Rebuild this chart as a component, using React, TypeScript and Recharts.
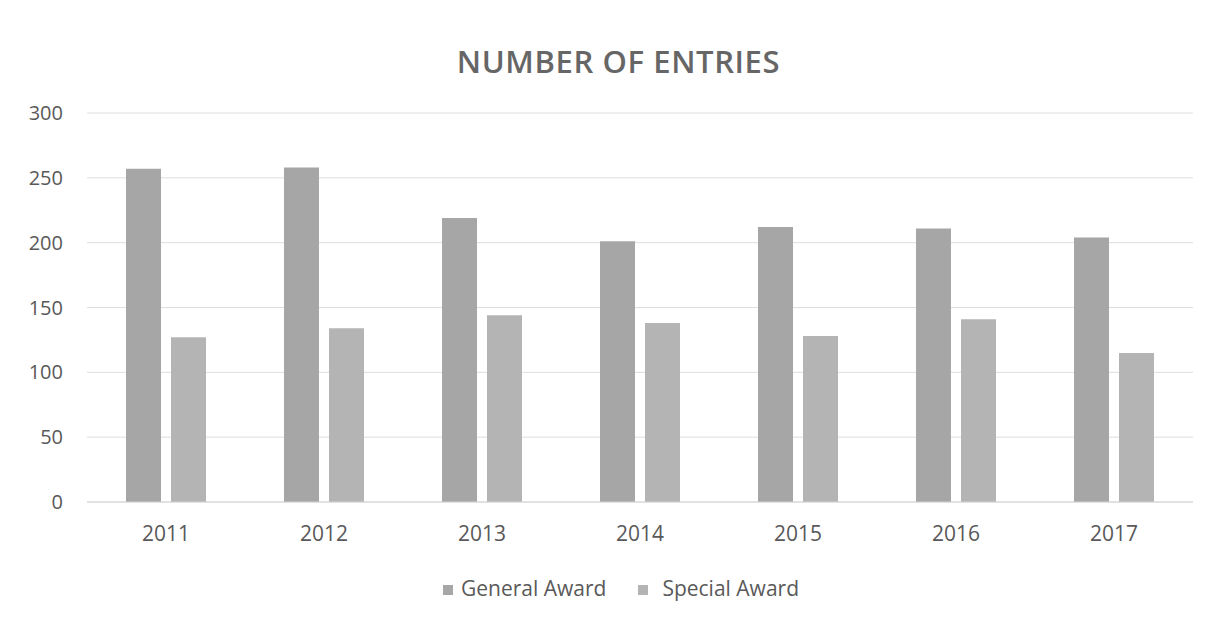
import React from 'react';
import { BarChart, Bar, XAxis, YAxis, CartesianGrid, Legend } from 'recharts';

const years = ['2011', '2012', '2013', '2014', '2015', '2016', '2017'];
const generalAward = [257, 258, 219, 201, 212, 211, 204];
const specialAward = [127, 134, 144, 138, 128, 141, 115];
const yTicks = [0, 50, 100, 150, 200, 250, 300];

const data = years.map((year, i) => ({
  year,
  general: generalAward[i],
  special: specialAward[i],
}));

const FONT = '"Open Sans", "Liberation Sans", sans-serif';

const App = () => {
  return (
    <div
      style={{
        position: 'absolute',
        left: 0,
        top: 0,
        width: 1213,
        height: 619,
        background: '#fff',
        fontFamily: FONT,
      }}
    >
      <div
        style={{
          position: 'absolute',
          left: 12,
          top: 40,
          width: 1213,
          textAlign: 'center',
          fontSize: 31,
          fontWeight: 600,
          color: '#666666',
          letterSpacing: 0.6,
          lineHeight: '42px',
        }}
      >
        NUMBER OF ENTRIES
      </div>
      <BarChart
        width={1213}
        height={619}
        data={data}
        margin={{ top: 113, right: 20, left: 17, bottom: 17 }}
        barGap={10}
        barSize={35}
      >
        <CartesianGrid vertical={false} stroke="#dedede" />
        <XAxis
          dataKey="year"
          tick={{ fill: '#595959', fontSize: 21, fontFamily: FONT }}
          tickLine={false}
          axisLine={{ stroke: '#d4d4d4' }}
          tickMargin={18}
          height={72}
        />
        <YAxis
          domain={[0, 300]}
          ticks={yTicks}
          width={70}
          tick={{ fill: '#595959', fontSize: 20, fontFamily: FONT }}
          tickLine={false}
          axisLine={false}
          tickMargin={18}
        />
        <Legend
          verticalAlign="bottom"
          align="center"
          iconType="square"
          iconSize={10}
          wrapperStyle={{ fontSize: 21, fontFamily: FONT, paddingLeft: 42, boxSizing: 'border-box' }}
          formatter={(value: string) => (
            <span
              style={{
                color: '#595959',
                marginLeft: value === 'General Award' ? 4 : 10,
                marginRight: value === 'General Award' ? 22 : 0,
              }}
            >
              {value}
            </span>
          )}
        />
        <Bar dataKey="general" name="General Award" fill="#a6a6a6" isAnimationActive={false} />
        <Bar dataKey="special" name="Special Award" fill="#b4b4b4" isAnimationActive={false} />
      </BarChart>
    </div>
  );
};

export default App;
